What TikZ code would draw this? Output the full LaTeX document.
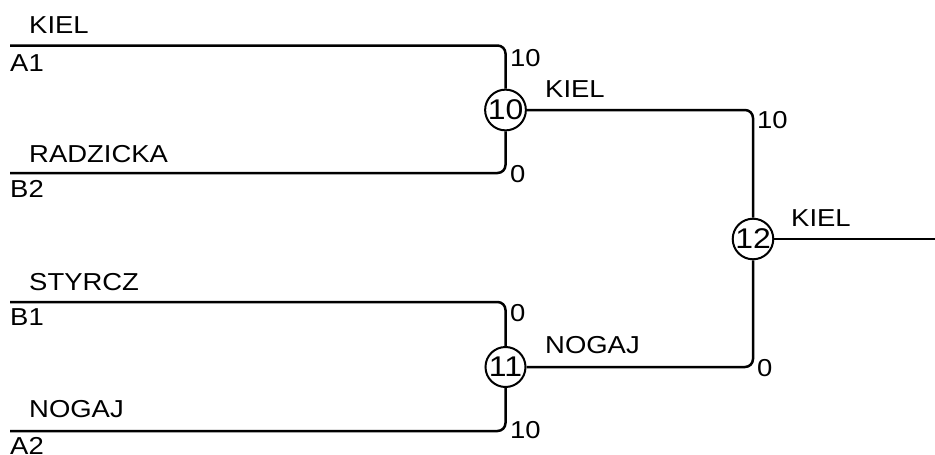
\documentclass[tikz,border=0pt]{standalone}
\usepackage{fontspec}
\setmainfont{Liberation Sans}
\newfontfamily\labfont[FakeStretch=1.12]{Liberation Sans}
\begin{document}
\begin{tikzpicture}[x=1pt,y=-1pt,
  wire/.style={line width=2.5pt, rounded corners=8pt},
  match/.style={circle, draw, line width=2pt, minimum size=40pt, inner sep=0pt, font=\labfont\fontsize{28.5}{30}\selectfont, fill=white},
  lbl/.style={anchor=base west, inner sep=0pt, font=\labfont\fontsize{24.5}{28}\selectfont}]
\useasboundingbox (0,0) rectangle (935,455);
% match circles
\node[match] (c10) at (505.5,110) {10};
\node[match] (c11) at (505.5,367) {11};
\node[match] (c12) at (753,239) {12};
% entry points
\coordinate (a1) at (10,45.5);
\coordinate (b2) at (10,173);
\coordinate (b1) at (10,302);
\coordinate (a2) at (10,431);
\coordinate (out) at (935,239);
% wires
\draw[wire] (a1) -| (c10.north);
\draw[wire] (b2) -| (c10.south);
\draw[wire] (b1) -| (c11.north);
\draw[wire] (a2) -| (c11.south);
\draw[wire] (c10.east) -| (c12.north);
\draw[wire] (c11.east) -| (c12.south);
\draw[wire] (c12.east) -- (out);
% player labels
\node[lbl] (n1) at (29,34) {KIEL};
\node[lbl] (s1) at (10,71) {A1};
\node[lbl] (n2) at (29,162) {RADZICKA};
\node[lbl] (s2) at (10,197) {B2};
\node[lbl] (n3) at (29,290) {STYRCZ};
\node[lbl] (s3) at (10,325) {B1};
\node[lbl] (n4) at (29,417) {NOGAJ};
\node[lbl] (s4) at (10,454) {A2};
% winners
\node[lbl] (w10) at (545,97) {KIEL};
\node[lbl] (w11) at (545,353) {NOGAJ};
\node[lbl] (w12) at (791,226) {KIEL};
% scores
\node[lbl] (p1) at (510,66) {10};
\node[lbl] (p2) at (510,182) {0};
\node[lbl] (p3) at (510,321) {0};
\node[lbl] (p4) at (510,438) {10};
\node[lbl] (p5) at (757,128) {10};
\node[lbl] (p6) at (757,376) {0};
\end{tikzpicture}
\end{document}
